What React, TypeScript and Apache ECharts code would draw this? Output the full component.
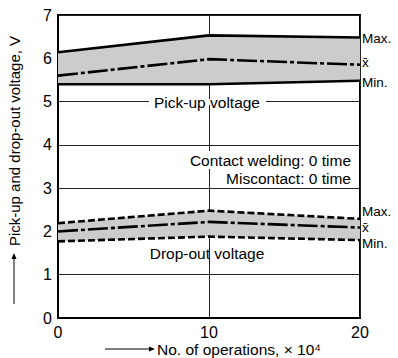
import React, { useEffect, useRef } from "react";
import * as echarts from "echarts";

const operations = ["0", "10", "20"];
const pickMax = [6.14, 6.53, 6.48];
const pickMean = [5.6, 5.98, 5.85];
const pickMin = [5.4, 5.4, 5.48];
const dropMax = [2.19, 2.48, 2.29];
const dropMean = [2.0, 2.22, 2.09];
const dropMin = [1.77, 1.88, 1.8];
const yTicks = [0, 1, 2, 3, 4, 5, 6, 7];

const FONT = "'Liberation Sans', Arial, Helvetica, sans-serif";

function diffs(hi: number[], lo: number[]) {
  return hi.map((v, i) => +(v - lo[i]).toFixed(3));
}

export default function App() {
  const ref = useRef<HTMLDivElement>(null);
  useEffect(() => {
    const chart = echarts.init(ref.current!, undefined, { renderer: "svg" });
    const solid = { color: "#000", width: 2.6, type: "solid" as const };
    const dashDot = { color: "#000", width: 2.6, type: [20, 3, 4, 3] };
    const dashed = { color: "#000", width: 2.6, type: [7, 3] };
    const lineBase = { type: "line" as const, symbol: "none", silent: true, z: 5 };
    const rightLabel = (text: string, y: number) => ({
      type: "text",
      x: 362,
      y,
      style: { text, font: `13.5px ${FONT}`, fill: "#000", verticalAlign: "middle" },
      z: 100,
    });
    chart.setOption({
      animation: false,
      grid: {
        left: 58,
        right: 38,
        top: 15,
        bottom: 40,
        show: true,
        borderColor: "#000",
        borderWidth: 2,
      },
      xAxis: {
        type: "category",
        data: operations,
        boundaryGap: false,
        axisLine: { show: true, lineStyle: { color: "#000", width: 2 } },
        axisTick: { show: false },
        axisLabel: { color: "#000", fontSize: 16, fontFamily: FONT, margin: 6, interval: 0 },
        splitLine: { show: true, interval: 0, lineStyle: { color: "#222", width: 1 } },
      },
      yAxis: {
        type: "value",
        min: yTicks[0],
        max: yTicks[yTicks.length - 1],
        interval: 1,
        axisLine: { show: true, lineStyle: { color: "#000", width: 2 } },
        axisTick: { show: false },
        axisLabel: { color: "#000", fontSize: 16, fontFamily: FONT, margin: 6 },
        splitLine: { show: true, lineStyle: { color: "#222", width: 1 } },
      },
      series: [
        {
          ...lineBase,
          name: "pickBase",
          stack: "pick",
          data: pickMin,
          lineStyle: { opacity: 0 },
          z: 3,
        },
        {
          ...lineBase,
          name: "pickBand",
          stack: "pick",
          data: diffs(pickMax, pickMin),
          lineStyle: { opacity: 0 },
          areaStyle: { color: "#cccccc", opacity: 1 },
          z: 3,
        },
        {
          ...lineBase,
          name: "dropBase",
          stack: "drop",
          data: dropMin,
          lineStyle: { opacity: 0 },
          z: 3,
        },
        {
          ...lineBase,
          name: "dropBand",
          stack: "drop",
          data: diffs(dropMax, dropMin),
          lineStyle: { opacity: 0 },
          areaStyle: { color: "#cccccc", opacity: 1 },
          z: 3,
        },
        { ...lineBase, name: "pickMax", data: pickMax, lineStyle: solid },
        { ...lineBase, name: "pickMean", data: pickMean, lineStyle: dashDot },
        { ...lineBase, name: "pickMin", data: pickMin, lineStyle: solid },
        { ...lineBase, name: "dropMax", data: dropMax, lineStyle: dashed },
        { ...lineBase, name: "dropMean", data: dropMean, lineStyle: dashDot },
        { ...lineBase, name: "dropMin", data: dropMin, lineStyle: dashed },
      ],
      graphic: [
        {
          type: "rect",
          shape: { x: 149, y: 99, width: 117, height: 6 },
          style: { fill: "#fff" },
          z: 100,
        },
        {
          type: "text",
          x: 207,
          y: 102,
          style: {
            text: "Pick-up voltage",
            font: `15.5px ${FONT}`,
            fill: "#000",
            align: "center",
            verticalAlign: "middle",
          },
          z: 101,
        },
        {
          type: "text",
          x: 353,
          y: 160,
          style: {
            text: "Contact welding: 0 time",
            font: `15.5px ${FONT}`,
            fill: "#000",
            align: "right",
            verticalAlign: "middle",
            backgroundColor: "#fff",
            padding: [1, 2],
          },
          z: 101,
        },
        {
          type: "text",
          x: 353,
          y: 178,
          style: {
            text: "Miscontact: 0 time",
            font: `15.5px ${FONT}`,
            fill: "#000",
            align: "right",
            verticalAlign: "middle",
            backgroundColor: "#fff",
            padding: [1, 2],
          },
          z: 101,
        },
        {
          type: "text",
          x: 207,
          y: 253,
          style: {
            text: "Drop-out voltage",
            font: `15.5px ${FONT}`,
            fill: "#000",
            align: "center",
            verticalAlign: "middle",
          },
          z: 101,
        },
        rightLabel("Max.", 38),
        rightLabel("x\u0304", 62),
        rightLabel("Min.", 82),
        rightLabel("Max.", 211),
        rightLabel("x\u0304", 227),
        rightLabel("Min.", 243),
        {
          type: "text",
          x: 14,
          y: 141,
          rotation: Math.PI / 2,
          style: {
            text: "Pick-up and drop-out voltage, V",
            font: `15px ${FONT}`,
            fill: "#000",
            align: "center",
            verticalAlign: "middle",
          },
          z: 100,
        },
        {
          type: "line",
          shape: { x1: 14, y1: 304, x2: 14, y2: 258 },
          style: { stroke: "#000", lineWidth: 1 },
          z: 100,
        },
        {
          type: "polygon",
          shape: { points: [[14, 253], [11.5, 259], [16.5, 259]] },
          style: { fill: "#000" },
          z: 100,
        },
        {
          type: "line",
          shape: { x1: 105, y1: 349, x2: 150, y2: 349 },
          style: { stroke: "#000", lineWidth: 1 },
          z: 100,
        },
        {
          type: "polygon",
          shape: { points: [[155, 349], [149, 346.5], [149, 351.5]] },
          style: { fill: "#000" },
          z: 100,
        },
        {
          type: "text",
          x: 157,
          y: 349,
          style: {
            text: "No. of operations, \u00d7 10\u2074",
            font: `15.5px ${FONT}`,
            fill: "#000",
            align: "left",
            verticalAlign: "middle",
          },
          z: 100,
        },
      ],
    });
    return () => chart.dispose();
  }, []);
  return <div ref={ref} style={{ width: 398, height: 358, position: "absolute", left: 0, top: 0 }} />;
}
